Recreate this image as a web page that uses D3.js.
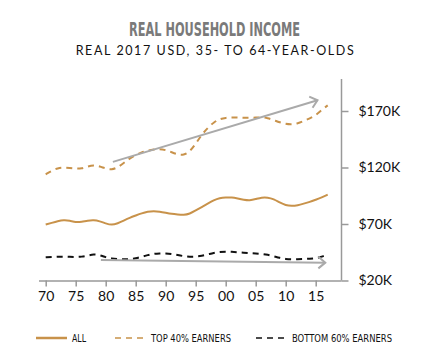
<!DOCTYPE html>
<html>
<head>
<meta charset="utf-8">
<script src="https://cdn.jsdelivr.net/npm/d3@7"></script>
<style>
  body { margin: 0; background: #fff; }
  svg { display: block; }
</style>
</head>
<body>
<svg id="place" width="431" height="362"></svg>
<script>
var years = d3.range(1970, 2018);
var all = [69.5, 71, 72.5, 73.5, 73, 71.5, 72, 73, 73.5, 72.5,
           70.5, 69, 70.5, 73, 75.5, 77.5, 79.5, 81, 81.5, 81,
           80, 79, 78.5, 78, 79, 82, 85, 88, 91, 93,
           93.6, 93.5, 92.5, 91.5, 90.8, 92, 93.5, 93.5, 92, 89,
           86.5, 86, 86.5, 88, 89.5, 91.5, 93.5, 96];
var top40 = [114, 117, 119.5, 120, 119.5, 119, 119, 121, 122, 121,
             119, 118, 120, 124, 128, 131, 133.5, 135, 136, 136.5,
             135.5, 133.5, 131.5, 131, 134, 141, 149, 155, 160, 163,
             164, 164.3, 164.2, 164, 164, 164.2, 164.5, 163.8, 162, 160,
             158.5, 158, 159, 161, 163.5, 166, 171, 175];
var bottom60 = [40.5, 40.8, 41, 41.2, 41, 40.8, 41, 42, 43.3, 42.5,
                40.5, 39.5, 39, 38.8, 38.8, 39.5, 41, 42.5, 43.7, 44,
                44, 43.5, 42.5, 41.5, 41, 41, 41.8, 43, 44.5, 45.3,
                45.5, 45.4, 45, 44.6, 44.3, 44, 43.5, 42.8, 41.5, 40,
                39, 38.7, 38.8, 39, 39.3, 39.6, 41, 43.3];
// trend arrows: [startYear, startValue, endYear, endValue]
var topArrow = [1981.2, 125, 2015.3, 179.5];
var bottomArrow = [1979.2, 38.1, 2016.6, 35.8];

var xTicks = [1970, 1975, 1980, 1985, 1990, 1995, 2000, 2005, 2010, 2015];
var yTicks = [20, 70, 120, 170];
var legendNames = ["ALL", "TOP 40% EARNERS", "BOTTOM 60% EARNERS"];

var gold = "#c8924a";
var grey = "#aaaaaa";
var svg = d3.select("#place");

var x = d3.scaleLinear().domain([1970, 2015]).range([45.7, 315.7]);
var y = d3.scaleLinear().domain([20, 170]).range([280.5, 111]);

// titles
svg.append("text")
    .attr("x", 214.5).attr("y", 36)
    .attr("text-anchor", "middle")
    .attr("textLength", 171)
    .attr("lengthAdjust", "spacingAndGlyphs")
    .style("font-family", "'DejaVu Sans Condensed', sans-serif")
    .style("font-weight", "bold")
    .style("font-size", "20px")
    .style("fill", "#7a7a7a")
    .text("REAL HOUSEHOLD INCOME");
svg.append("text")
    .attr("x", 215.5).attr("y", 55)
    .attr("text-anchor", "middle")
    .style("font-family", "Lato, sans-serif")
    .style("font-size", "12.5px")
    .style("letter-spacing", "1.6px")
    .style("fill", "#111")
    .text("REAL 2017 USD, 35- TO 64-YEAR-OLDS");

// axes
var xAxis = d3.axisBottom(x).tickValues(xTicks).tickSize(6).tickPadding(5)
    .tickFormat(function(d) { return d3.format("02")(d % 100); });
var gx = svg.append("g").attr("transform", "translate(0,280.5)").call(xAxis);
gx.select(".domain").attr("d", "M39,0.5H341.5");

var yAxis = d3.axisRight(y).tickValues(yTicks).tickSize(7).tickPadding(10)
    .tickFormat(function(d) { return "$" + d + "K"; });
var gy = svg.append("g").attr("transform", "translate(341.5,0)").call(yAxis);
gy.select(".domain").attr("d", "M0,79V280.5");

svg.selectAll(".domain, .tick line").attr("stroke", "#999").attr("stroke-width", 1.5);
svg.selectAll(".tick text")
    .style("font-family", "Lato, sans-serif")
    .style("font-size", "14px")
    .style("fill", "#111");

// lines
var line = d3.line()
    .x(function(d, i) { return x(years[i]); })
    .y(function(d) { return y(d); })
    .curve(d3.curveBasis);

svg.append("path").datum(all)
    .attr("d", line).attr("fill", "none")
    .attr("stroke", gold).attr("stroke-width", 2);
svg.append("path").datum(top40)
    .attr("d", line).attr("fill", "none")
    .attr("stroke", gold).attr("stroke-width", 2)
    .attr("stroke-dasharray", "6,5");
svg.append("path").datum(bottom60)
    .attr("d", line).attr("fill", "none")
    .attr("stroke", "#111").attr("stroke-width", 2)
    .attr("stroke-dasharray", "6,5");

// arrows
var drawArrow = function(a) {
    var x1 = x(a[0]), y1 = y(a[1]), x2 = x(a[2]), y2 = y(a[3]);
    var ang = Math.atan2(y2 - y1, x2 - x1);
    var len = 9, spread = 0.7;
    svg.append("line")
        .attr("x1", x1).attr("y1", y1).attr("x2", x2).attr("y2", y2)
        .attr("stroke", grey).attr("stroke-width", 2);
    svg.append("path")
        .attr("d", "M" + (x2 - len * Math.cos(ang - spread)) + "," + (y2 - len * Math.sin(ang - spread)) +
                   "L" + x2 + "," + y2 +
                   "L" + (x2 - len * Math.cos(ang + spread)) + "," + (y2 - len * Math.sin(ang + spread)))
        .attr("fill", "none").attr("stroke", grey).attr("stroke-width", 2);
};
drawArrow(topArrow);
drawArrow(bottomArrow);

// legend
var legendX = [36, 115, 256];
var legendW = [14, 80, 100];
var legendColor = [gold, gold, "#111"];
var legendDash = [null, "6,5", "6,5"];
var lg = svg.append("g").attr("transform", "translate(0,338)");
legendNames.forEach(function(name, i) {
    lg.append("line")
        .attr("x1", legendX[i]).attr("x2", legendX[i] + 31)
        .attr("y1", 0).attr("y2", 0)
        .attr("stroke", legendColor[i])
        .attr("stroke-width", i === 0 ? 2.5 : 1.5)
        .attr("stroke-dasharray", legendDash[i]);
    lg.append("text")
        .attr("x", legendX[i] + 36).attr("y", 4)
        .attr("textLength", legendW[i])
        .attr("lengthAdjust", "spacingAndGlyphs")
        .style("font-family", "'DejaVu Sans Condensed', sans-serif")
        .style("font-size", "11px")
        .style("fill", "#111")
        .text(name);
});
</script>
</body>
</html>
